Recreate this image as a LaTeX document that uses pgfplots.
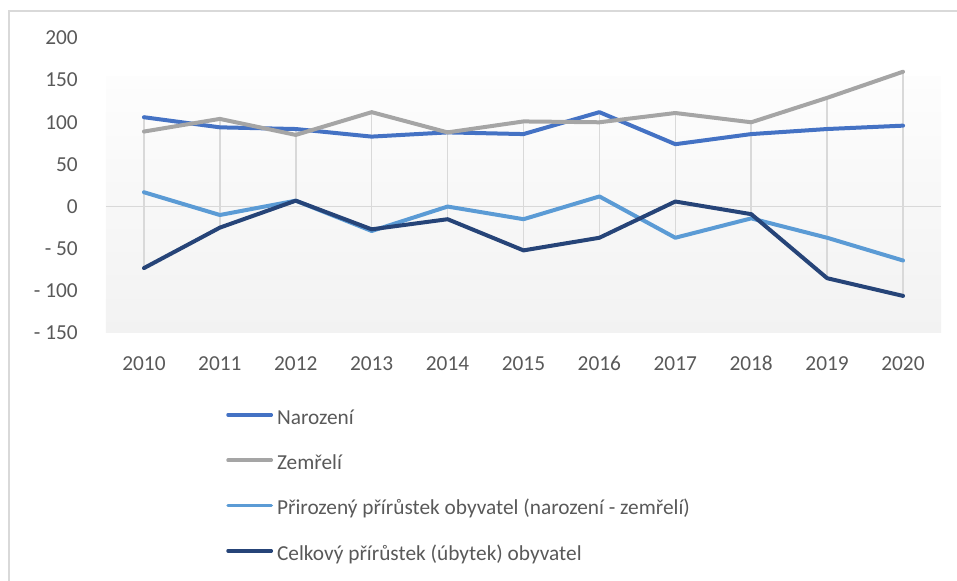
\documentclass[border=0pt]{standalone}
\usepackage{fontspec}
\setmainfont{Carlito}
\usepackage{pgfplots}
\usepackage{pgfplotstable}
\pgfplotsset{compat=1.18}

\definecolor{narc}{HTML}{4472C4}
\definecolor{zemc}{HTML}{A5A5A5}
\definecolor{pric}{HTML}{5B9BD5}
\definecolor{celc}{HTML}{264478}
\definecolor{gridc}{HTML}{D9D9D9}
\definecolor{txtc}{HTML}{595959}

% N = narozeni, Z = zemreli, P = prirozeny prirustek, C = celkovy prirustek
\pgfplotstableread{
year N   Z   P    C
2010 106 89  17   -73
2011 94  104 -10  -25
2012 92  85  7    7
2013 83  112 -29  -27
2014 88  88  0    -15
2015 86  101 -15  -52
2016 112 100 12   -37
2017 74  111 -37  6
2018 86  100 -14  -9
2019 92  129 -37  -85
2020 96  160 -64  -106
}\data

\begin{document}
\begin{tikzpicture}
\begin{axis}[
  set layers,
  at={(0pt,0pt)}, anchor=south west,
  scale only axis,
  width=626.25pt, height=221.25pt,
  xmin=2009.5, xmax=2020.5,
  ymin=-150, ymax=200,
  xtick={2010,...,2020},
  xticklabels={2010,2011,2012,2013,2014,2015,2016,2017,2018,2019,2020},
  ytick={-150,-100,...,200},
  yticklabels={- 150,- 100,- 50,0,50,100,150,200},
  major tick length=0pt,
  axis line style={draw=none},
  tick style={draw=none},
  ticklabel style={font=\fontsize{16}{19}\selectfont, text=txtc, inner sep=0pt},
  xticklabel style={anchor=north, yshift=-17pt, text height=11pt, text depth=0pt},
  yticklabel style={anchor=east, xshift=-21pt},
  legend cell align=left,
  legend style={
    at={(axis description cs:0.1437,-0.254)}, anchor=north west,
    draw=none, fill=none, inner sep=0pt,
    row sep=18pt, column sep=3pt,
    font=\fontsize{16}{19}\selectfont, text=txtc,
    nodes={inner sep=0pt, text height=12pt, text depth=4pt},
  },
  legend image code/.code={\draw[#1, line width=2.6pt, line cap=round] (1.3pt,0.3em) -- (33.8pt,0.3em);},
]
\begin{pgfonlayer}{axis background}
\fill[top color={rgb,255:red,253;green,253;blue,253}, bottom color={rgb,255:red,242;green,242;blue,242}]
  (axis cs:2009.5,-150) rectangle (axis cs:2020.5,154);
\draw[gridc, line width=1pt] (axis cs:2009.5,0) -- (axis cs:2020.5,0);
\end{pgfonlayer}

% high-low lines
\addplot[draw=none, mark=none, forget plot,
  error bars/.cd, y dir=plus, y explicit, error mark=none,
  error bar style={draw=gridc, line width=1.2pt}]
  table[x=year,
    y expr={min(\thisrow{N},\thisrow{Z},\thisrow{P},\thisrow{C})},
    y error expr={max(\thisrow{N},\thisrow{Z},\thisrow{P},\thisrow{C})-min(\thisrow{N},\thisrow{Z},\thisrow{P},\thisrow{C})}] {\data};

\addplot[narc, line width=3pt, line cap=round, line join=round, mark=none] table[x=year, y=N] {\data};
\addplot[zemc, line width=3pt, line cap=round, line join=round, mark=none] table[x=year, y=Z] {\data};
\addplot[pric, line width=3pt, line cap=round, line join=round, mark=none] table[x=year, y=P] {\data};
\addplot[celc, line width=3pt, line cap=round, line join=round, mark=none] table[x=year, y=C] {\data};
\legend{Narození, Zemřelí, Přirozený přírůstek obyvatel (narození - zemřelí), Celkový přírůstek (úbytek) obyvatel}
\end{axis}
\draw[overlay, gridc, line width=0.9pt] (-72.75pt,-200pt) rectangle (660pt,241.5pt);
\path (-79.5pt,-186pt) rectangle (638.25pt,249.75pt);
\end{tikzpicture}
\end{document}
